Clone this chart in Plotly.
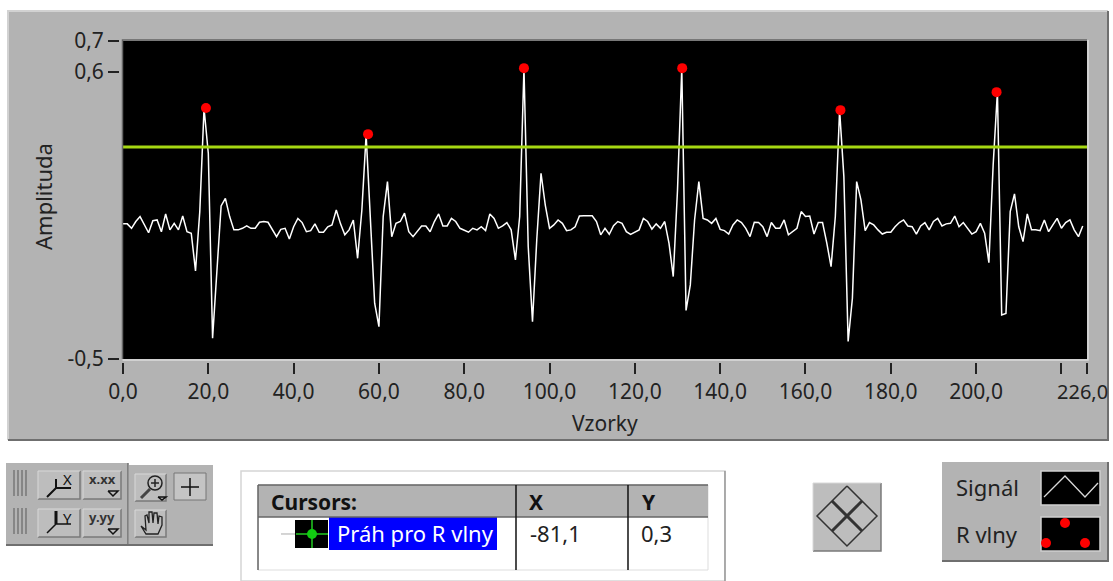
import plotly.graph_objects as go

# ---- data ----
signal = [
 .018,.018,.001,.027,.046,.014,-.016,.030,.033,-.012,.056,-.005,.020,-.005,.048,-.012,-.018,-.162,.065,.461,
 .288,-.420,-.165,.087,.116,.046,-.005,-.005,.001,.010,.001,.001,.024,.027,.024,-.005,-.031,-.003,.001,-.040,
 .007,.039,.023,-.012,-.008,.018,-.014,-.014,.007,.014,.071,.018,-.024,-.005,.033,-.114,.071,.359,.033,-.286,
 -.376,.046,.180,-.031,.020,.027,.059,-.012,-.031,-.012,.010,.010,-.012,.027,.056,.010,.010,.039,.027,.001,
 -.008,-.014,.001,-.005,.007,-.008,.056,.039,.001,.010,.023,-.005,-.120,.046,.614,-.069,-.357,-.044,.212,.090,
 .001,.014,.033,.020,-.008,-.005,.007,.048,.049,.049,.049,.027,-.024,.001,-.022,.011,.027,.020,-.012,-.022,
 -.012,-.005,.039,.027,-.002,.018,.001,.027,-.056,-.184,.148,.614,-.314,-.216,.033,.180,.039,.033,.020,.039,
 -.003,-.008,-.021,.014,.033,.023,.001,-.031,.024,.023,.007,-.031,.023,.001,.001,.033,-.024,-.012,.001,.065,
 .046,.048,-.021,.023,.023,-.056,-.146,.046,.454,.199,-.433,-.267,.180,.110,-.008,.023,.014,-.005,-.021,-.014,
 -.014,.007,.023,.033,.010,.007,-.021,.010,.023,-.005,.027,.039,.010,.018,.020,.048,.007,.023,.001,-.021,
 -.012,.020,-.018,-.131,.244,.525,-.331,-.325,.065,.133,.007,-.050,.056,-.005,-.005,-.008,.033,-.012,.014,.039,
 .001,.023,.033,-.005,-.031,.010]
sample = list(range(len(signal)))
r_x = [19.45, 57.45, 94.0, 131.1, 168.2, 204.8]
r_y = [0.462, 0.362, 0.615, 0.615, 0.454, 0.523]
threshold_x = [0, 226]
threshold_y = [0.3126, 0.3126]
x_ticks = [0, 20, 40, 60, 80, 100, 120, 140, 160, 180, 200, 220, 226]
x_labels = ["0,0", "20,0", "40,0", "60,0", "80,0", "100,0", "120,0", "140,0", "160,0", "180,0", "200,0", "", ""]
y_ticks = [-0.5, 0.6, 0.719]
y_labels = ["-0,5", "0,6", "0,7"]

W, H = 1113, 581
GRAY = "#b3b3b3"
FONT = "Noto Sans"
INK = "#222222"
def px(x): return x / W
def py(y): return 1 - y / H

shapes, notes = [], []
def rect(x0, y0, x1, y1, fill=None, line=None, lw=1, layer="below"):
    shapes.append(dict(type="rect", xref="paper", yref="paper", x0=px(x0), x1=px(x1), y0=py(y0), y1=py(y1),
                       fillcolor=fill, line=dict(color=line, width=lw if line else 0), layer=layer))
def seg(pts, color=INK, lw=1.5, layer="above"):
    path = "M" + " L".join(f"{px(a):.5f},{py(b):.5f}" for a, b in pts)
    shapes.append(dict(type="path", xref="paper", yref="paper", path=path, line=dict(color=color, width=lw), layer=layer))
def circle(cx, cy, r, fill=None, line=None, lw=1):
    shapes.append(dict(type="circle", xref="paper", yref="paper", x0=px(cx-r), x1=px(cx+r), y0=py(cy-r), y1=py(cy+r),
                       fillcolor=fill, line=dict(color=line, width=lw if line else 0), layer="above"))
def text(x, y, s, size=21, color=INK, anchor="left", angle=0, bold=False):
    notes.append(dict(xref="paper", yref="paper", x=px(x), y=py(y), text=f"<b>{s}</b>" if bold else s, showarrow=False,
                      xanchor=anchor, yanchor="middle", textangle=angle, font=dict(family=FONT, size=size, color=color)))
def button(x0, y0, x1, y1):
    rect(x0, y0, x1, y1, fill="#bdbdbd")
    seg([(x0, y1), (x1, y1), (x1, y0)], "#7a7a7a", 1.5, "below")
    seg([(x0, y1), (x0, y0), (x1, y0)], "#d8d8d8", 1, "below")

# main panel
rect(8, 11, 1108, 440, fill=GRAY)
seg([(8, 440), (8, 11), (1108, 11)], "#d2d2d2", 2, "below")
seg([(8, 440), (1108, 440), (1108, 11)], "#6f6f6f", 2, "below")
# plot background sits on top of the panel
rect(123, 41, 1087, 359, fill="#000000")
# gap between the ticks and the plot frame
rect(119, 34, 122, 365, fill=GRAY, layer="above")
rect(119, 360, 1092, 363, fill=GRAY, layer="above")
seg([(122.5, 359), (122.5, 40), (1087, 40)], "#666666", 1.5)
seg([(122.5, 360), (1088, 360), (1088, 40)], "#dcdcdc", 1.5)
# axis titles and the end label
text(605, 423, "Vzorky", anchor="center")
text(43, 197, "Amplituda", 22, anchor="center", angle=-90)
text(1055, 391, "226,0", 20)

# graph palette
rect(6, 463, 128, 545, fill=GRAY)
rect(129, 465, 213, 545, fill=GRAY)
seg([(6, 545), (213, 545)], "#6f6f6f", 2, "below")
seg([(128, 463), (128, 545)], "#6f6f6f", 1.5, "below")
for y in (470, 508):
    for dx in (14, 18, 22, 26):
        seg([(dx, y), (dx, y + 26)], "#777777", 1.5)
    button(38, y + 1, 80, y + 29)
    button(83, y + 1, 121, y + 29)
seg([(47, 497), (56, 488), (71, 488)], "#111111", 2)
seg([(56, 479), (56, 488)], "#111111", 2)
text(67, 479, "X", 15, "#111111", "center")
seg([(47, 533), (56, 524), (71, 524)], "#111111", 1.5)
seg([(56, 511), (56, 524)], "#111111", 3)
text(67, 518, "Y", 15, "#111111", "center")
text(102, 479, "x.xx", 13, "#333333", "center", bold=True)
text(102, 517, "y.yy", 13, "#333333", "center", bold=True)
for y in (491, 529):
    seg([(108, y), (118, y), (113, y + 5), (108, y)], "#111111", 1.5)
button(135, 474, 166, 501)
button(135, 510, 166, 537)
rect(174, 473, 206, 500, fill="#c4c4c4", line="#777777")
seg([(190, 478), (190, 496)], "#111111", 1.5)
seg([(181, 487), (199, 487)], "#111111", 1.5)
circle(155, 483, 7, None, "#222222", 1.5)
seg([(151, 483), (159, 483)], "#222222", 1.5)
seg([(155, 479), (155, 487)], "#222222", 1.5)
seg([(150, 489), (141, 498)], "#444444", 3)
seg([(158, 497), (166, 497), (162, 500), (158, 497)], "#111111", 1.5)
seg([(141, 526), (146, 534), (158, 534), (162, 525), (162, 517), (159, 516), (158, 524), (157, 513), (154, 513),
     (153, 523), (152, 512), (149, 512), (149, 523), (147, 515), (145, 516), (146, 530), (141, 526)], "#222222", 1.3)

# cursor table
rect(241, 471, 725, 581, fill="#ffffff", line="#d5d5d5", lw=1.5)
seg([(725, 471), (725, 581)], "#777777", 1)
rect(258, 485, 708, 570, fill="#ffffff", line="#dddddd")
rect(258, 485, 708, 517, fill=GRAY)
seg([(258, 485), (708, 485)], "#666666", 1.5)
seg([(258, 517), (708, 517)], "#666666", 1.5)
seg([(258, 485), (258, 570)], "#666666", 1.5)
seg([(516, 485), (516, 570)], "#111111", 1.5)
seg([(628, 485), (628, 570)], "#111111", 1.5)
text(269, 502, "Cursors:", 21, "#111111", bold=True)
text(527, 502, "X", 21, "#111111", bold=True)
text(640, 502, "Y", 21, "#111111", bold=True)
seg([(281, 534), (295, 534)], "#aaaaaa", 1)
rect(295, 520, 328, 548, fill="#000000", layer="above")
seg([(296, 534), (328, 534)], "#22cc22", 1.5)
seg([(312, 520), (312, 548)], "#22cc22", 1.5)
circle(312, 534, 5, "#11cc11")
rect(329, 517, 497, 550, fill="#0000ff")
text(335, 533, "Práh pro R vlny", 22, "#ffffff")
text(528, 533, "-81,1", 22, "#222222")
text(639, 533, "0,3", 22, "#222222")

# centre button
button(813, 483, 881, 551)
seg([(847, 486), (877, 516), (847, 546), (817, 516), (847, 486)], "#333333", 1.5)
seg([(832, 501), (862, 531)], "#333333", 3)
seg([(862, 501), (832, 531)], "#333333", 3)

# legend
rect(942, 462, 1108, 561, fill=GRAY)
seg([(942, 561), (1108, 561), (1108, 462)], "#6f6f6f", 2, "below")
text(954, 487, "Signál", 22)
text(954, 534, "R vlny", 22)
rect(1041, 471, 1100, 505, fill="#000000", line="#cfcfcf", lw=1.5, layer="above")
seg([(1044, 497), (1065, 476), (1085, 497), (1098, 483)], "#d8d8d8", 1.3)
rect(1041, 517, 1100, 551, fill="#000000", line="#cfcfcf", lw=1.5, layer="above")
circle(1065, 523, 5, "#ff0000")
circle(1085, 543, 5, "#ff0000")
circle(1046, 543, 5, "#ff0000")

fig = go.Figure()
fig.add_trace(go.Scatter(x=sample, y=signal, mode="lines", line=dict(color="#ffffff", width=1.5), name="Signál"))
fig.add_trace(go.Scatter(x=threshold_x, y=threshold_y, mode="lines", line=dict(color="#a6d812", width=3), name="Práh pro R vlny"))
fig.add_trace(go.Scatter(x=r_x, y=r_y, mode="markers", marker=dict(color="#ff0000", size=10), name="R vlny"))
fig.update_layout(
    width=W, height=H, autosize=False, showlegend=False, paper_bgcolor="#ffffff", plot_bgcolor="#000000",
    margin=dict(l=0, r=0, t=0, b=0), shapes=shapes, annotations=notes,
    font=dict(family=FONT, size=21, color=INK),
    xaxis=dict(domain=[px(123), px(1087)], range=[0, 226], tickvals=x_ticks, ticktext=x_labels, ticks="outside",
               ticklen=14, tickwidth=1.5, tickcolor=INK, showgrid=False, zeroline=False, showline=False, automargin=False),
    yaxis=dict(domain=[py(359), py(41)], range=[-0.5, 0.719], tickvals=y_ticks, ticktext=y_labels, ticks="outside",
               ticklen=14, tickwidth=1.5, tickcolor=INK, showgrid=False, zeroline=False, showline=False, automargin=False),
)
fig.write_html("out.html", config={"displayModeBar": False}, post_script="document.body.style.margin='0';")
